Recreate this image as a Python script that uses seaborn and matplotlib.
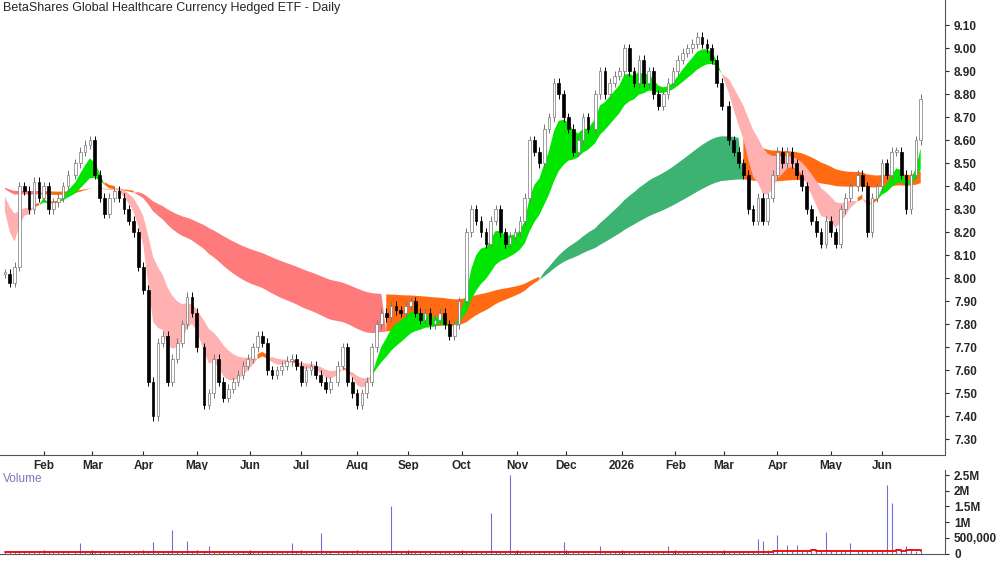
import numpy as np
import pandas as pd
import matplotlib
matplotlib.use("Agg")
import matplotlib.pyplot as plt
import seaborn as sns
from matplotlib.ticker import FuncFormatter

sns.set_style("white")
plt.rcParams['font.family'] = ['Liberation Sans', 'DejaVu Sans']

title = "BetaShares Global Healthcare Currency Hedged ETF - Daily"
first_day = "2025-01-10"
last_day = "2026-06-23"
warmup_close = 8.40

# clotures (une bougie tous les ~2 jours ouvres)
closes = [8.02, 7.98, 8.05, 8.40, 8.38, 8.30, 8.42, 8.35, 8.40, 8.30,
          8.33, 8.35, 8.40, 8.45, 8.50, 8.55, 8.58, 8.60, 8.45, 8.35,
          8.28, 8.35, 8.38, 8.35, 8.30, 8.25, 8.20, 8.05, 7.95, 7.55,
          7.40, 7.72, 7.75, 7.55, 7.65, 7.72, 7.80, 7.92, 7.85, 7.70,
          7.45, 7.50, 7.65, 7.55, 7.48, 7.52, 7.55, 7.58, 7.62, 7.65,
          7.70, 7.75, 7.72, 7.60, 7.58, 7.60, 7.62, 7.64, 7.65, 7.62,
          7.55, 7.60, 7.62, 7.58, 7.55, 7.52, 7.55, 7.62, 7.70, 7.55,
          7.50, 7.45, 7.50, 7.55, 7.70, 7.80, 7.85, 7.83, 7.88, 7.86,
          7.85, 7.88, 7.90, 7.85, 7.82, 7.85, 7.80, 7.82, 7.85, 7.80,
          7.75, 7.80, 7.90, 8.20, 8.30, 8.25, 8.20, 8.15, 8.25, 8.30,
          8.20, 8.15, 8.18, 8.20, 8.25, 8.35, 8.60, 8.55, 8.50, 8.65,
          8.70, 8.85, 8.80, 8.70, 8.65, 8.55, 8.60, 8.70, 8.65, 8.80,
          8.90, 8.80, 8.85, 8.88, 8.90, 9.00, 8.90, 8.85, 8.95, 8.85,
          8.90, 8.80, 8.75, 8.80, 8.85, 8.90, 8.95, 8.98, 9.00, 9.02,
          9.05, 9.02, 9.00, 8.95, 8.85, 8.75, 8.60, 8.55, 8.50, 8.45,
          8.30, 8.25, 8.35, 8.25, 8.35, 8.45, 8.55, 8.50, 8.55, 8.50,
          8.45, 8.40, 8.30, 8.25, 8.20, 8.15, 8.25, 8.20, 8.15, 8.30,
          8.35, 8.40, 8.45, 8.40, 8.20, 8.35, 8.40, 8.50, 8.45, 8.55,
          8.55, 8.45, 8.30, 8.45, 8.60, 8.78]

# volumes en milliers
volumes = [60, 40, 50, 70, 45, 55, 40, 60, 50, 45,
           70, 40, 55, 60, 50, 350, 60, 45, 40, 55,
           50, 60, 45, 70, 40, 50, 55, 60, 45, 50,
           380, 60, 50, 55, 750, 45, 60, 400, 50, 55,
           60, 250, 50, 45, 60, 55, 40, 50, 45, 60,
           55, 40, 60, 50, 45, 55, 60, 40, 350, 50,
           60, 45, 55, 50, 650, 60, 45, 55, 50, 60,
           40, 55, 50, 45, 60, 55, 50, 45, 1500, 60,
           50, 55, 60, 45, 50, 55, 60, 45, 50, 55,
           60, 45, 50, 55, 60, 45, 50, 55, 1300, 60,
           50, 55, 2500, 60, 45, 50, 55, 60, 45, 50,
           55, 60, 45, 370, 50, 55, 60, 45, 50, 55,
           230, 45, 50, 55, 60, 45, 50, 55, 60, 45,
           50, 55, 60, 45, 250, 55, 60, 45, 50, 55,
           60, 45, 50, 55, 60, 45, 50, 55, 60, 45,
           80, 90, 450, 400, 100, 80, 600, 90, 280, 80,
           280, 90, 80, 100, 90, 80, 700, 90, 80, 100,
           90, 330, 80, 100, 90, 80, 100, 90, 2200, 1600,
           100, 90, 250, 100, 90, 80]

bdays = pd.bdate_range(first_day, last_day)
pos = np.round(np.linspace(0, len(bdays) - 1, len(closes))).astype(int)
df = pd.DataFrame({"x": pos, "close": closes, "vol": np.array(volumes) * 1000})
df["open"] = df["close"].shift(1).fillna(closes[0])
df["high"] = df[["open", "close"]].max(axis=1) + 0.02
df["low"] = df[["open", "close"]].min(axis=1) - 0.02

# moyennes mobiles exponentielles (type GMMA), periodes en bougies
warm = 40
seeded = pd.Series([warmup_close] * warm + closes)
short_spans = [6, 7, 9, 11, 13, 16]
long_spans = [60, 68, 76, 85, 95, 110]
short = pd.concat([seeded.ewm(span=s, adjust=False).mean() for s in short_spans], axis=1).iloc[warm:].reset_index(drop=True)
long = pd.concat([seeded.ewm(span=s, adjust=False).mean() for s in long_spans], axis=1).iloc[warm:].reset_index(drop=True)
s_top, s_bot = short.max(axis=1), short.min(axis=1)
l_top, l_bot = long.max(axis=1), long.min(axis=1)
s_spread = short.iloc[:, 0] - short.iloc[:, -1]
l_spread = long.iloc[:, 0] - long.iloc[:, -1]
s_above = s_bot > l_top + 0.03
s_below = s_top < l_bot - 0.03

fig = plt.figure(figsize=(10, 5.62), dpi=100)
ax = fig.add_axes([0.0, 0.19, 0.945, 0.81])
axv = fig.add_axes([0.0, 0.015, 0.945, 0.148])

x = df["x"].values
up_s = (s_spread > 0.015).values
dn_s = (s_spread < -0.015).values
mid_s = ~(up_s | dn_s)
up_l = ((l_spread > 0) & s_above).values
dn_l = ((l_spread < 0) & s_below).values
mid_l = ~(up_l | dn_l)

ax.fill_between(x, l_bot, l_top, where=up_l, color="#3CB371", lw=0, interpolate=True)
ax.fill_between(x, l_bot, l_top, where=dn_l, color="#FF7B7B", lw=0, interpolate=True)
ax.fill_between(x, l_bot, l_top, where=mid_l, color="#FF6A13", lw=0, interpolate=True)
ax.fill_between(x, s_bot, s_top, where=up_s, color="#00E600", lw=0, interpolate=True)
ax.fill_between(x, s_bot, s_top, where=dn_s, color="#FFB0B0", lw=0, interpolate=True)
ax.fill_between(x, s_bot, s_top, where=mid_s, color="#FF6A13", lw=0, interpolate=True)

# bougies
for _, r in df.iterrows():
    down = r["close"] < r["open"]
    ax.vlines(r["x"], r["low"], r["high"], color="black" if down else "#777777", lw=0.7, zorder=3)
    b0, b1 = min(r["open"], r["close"]), max(r["open"], r["close"])
    ax.bar(r["x"], max(b1 - b0, 0.006), bottom=b0, width=1.1,
           color="black" if down else "white", edgecolor="black" if down else "#777777",
           lw=0.5, zorder=4)

ax.set_ylim(7.23, 9.21)
xmax = len(bdays) + 9
ax.set_xlim(-2, xmax)
ax.yaxis.tick_right()
ax.set_yticks(np.arange(7.3, 9.11, 0.1))
ax.yaxis.set_major_formatter(FuncFormatter(lambda v, p: f"{v:.2f}"))
ax.text(0.003, 0.995, title, transform=ax.transAxes, va="top", ha="left", fontsize=9)

months = pd.Series(bdays).groupby([bdays.year, bdays.month]).first()
mpos = [bdays.get_loc(d) for d in months.values][1:]
mlab = ["2026" if d.month == 1 else d.strftime("%b") for d in months.iloc[1:]]
ax.set_xticks(mpos)
ax.set_xticklabels(mlab, fontsize=8.5, fontweight="bold")

axv.vlines(x, 0, df["vol"], color="#6f6fd0", lw=0.8)
vma = df["vol"].rolling(12, min_periods=1).median()
axv.step(x, vma, where="post", color="#EE1111", lw=1.4)
axv.set_xlim(-2, xmax)
axv.set_ylim(0, 2.65e6)
axv.yaxis.tick_right()
axv.set_yticks([0, 5e5, 1e6, 1.5e6, 2e6, 2.5e6])
axv.set_yticklabels(["0", "500,000", "1M", "1.5M", "2M", "2.5M"])
axv.set_xticks(mpos)
axv.set_xticklabels([])
axv.text(0.003, 0.97, "Volume", transform=axv.transAxes, va="top", color="#7777bb", fontsize=8.5)

for a in (ax, axv):
    a.tick_params(axis="y", labelsize=8.5, length=3, right=True, direction="out")
    a.tick_params(axis="x", length=3, bottom=True, direction="in")
    for sp in ("top", "left"):
        a.spines[sp].set_visible(False)
    a.spines["right"].set_color("#555555")
    a.spines["bottom"].set_color("#555555")
for lab in ax.get_yticklabels() + axv.get_yticklabels():
    lab.set_fontweight("bold")

fig.savefig("out.png", dpi=100)
